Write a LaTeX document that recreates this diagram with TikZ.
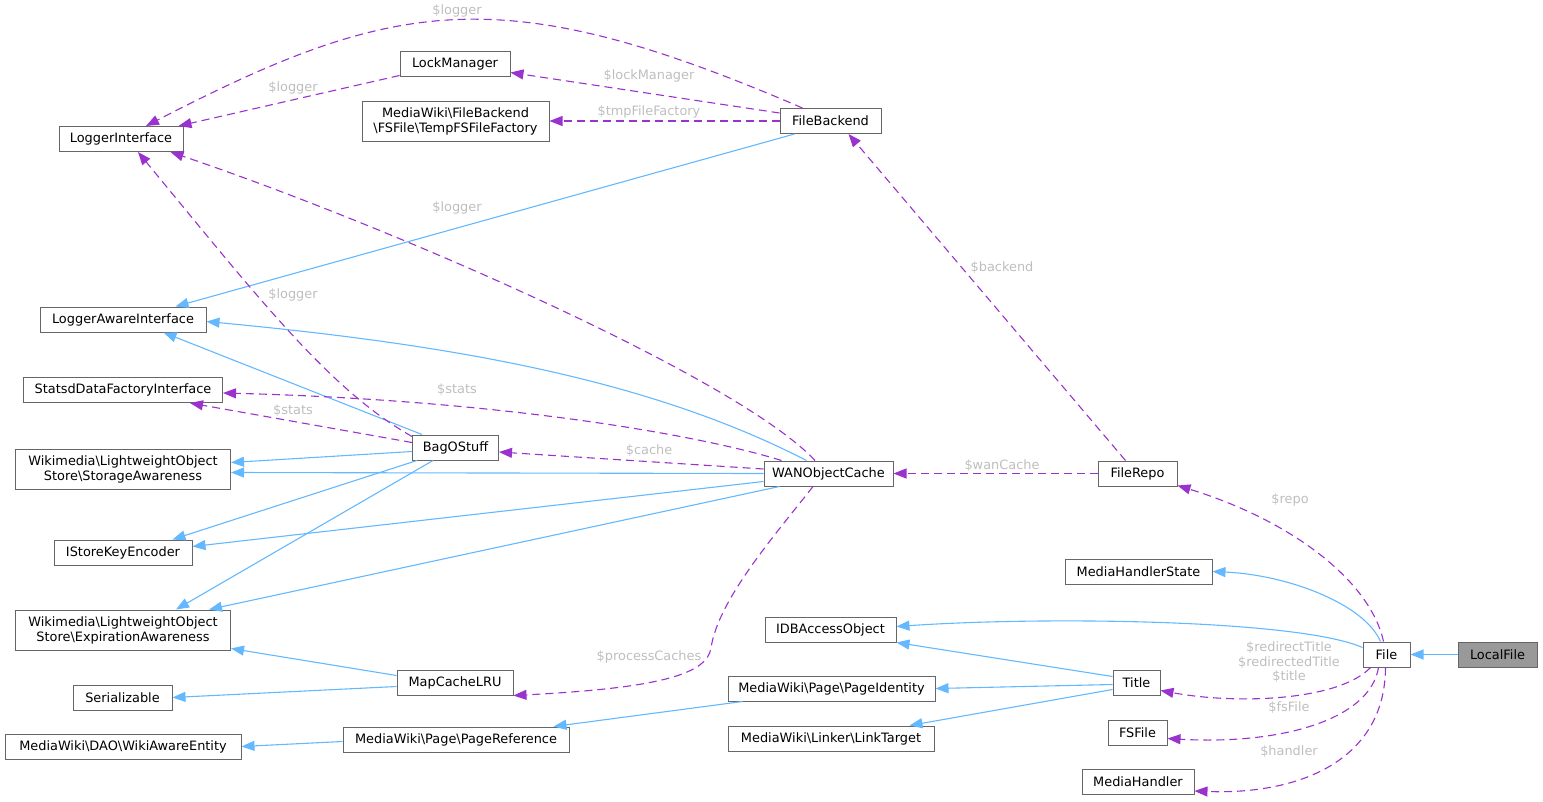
\documentclass[tikz,border=0pt]{standalone}
\usepackage{fontspec}
\setmainfont{DejaVu Sans}
\usetikzlibrary{arrows.meta,calc}
\definecolor{edgeblue}{HTML}{63B8FF}
\definecolor{edgepurple}{HTML}{9A32CD}
\definecolor{lblgray}{HTML}{BEBEBE}
\definecolor{boxgray}{HTML}{666666}
\definecolor{fillgray}{HTML}{999999}
\begin{document}
\begin{tikzpicture}[x=1pt,y=-1pt,
  box/.style={draw=boxgray, line width=1pt, fill=white, font=\fontsize{12.9}{15}\selectfont, inner sep=0pt, minimum height=25pt, align=center},
  box2/.style={box, minimum height=40pt},
  inh/.style={draw=edgeblue, line width=1.1pt, -{Triangle[length=13pt,width=10pt]}},
  refl/.style={draw=edgepurple, line width=1.1pt, dash pattern=on 8pt off 5pt, -{Triangle[length=13pt,width=10pt]}},
  lbl/.style={text=lblgray, font=\fontsize{12.9}{14.5}\selectfont, inner sep=0pt, align=center}]
\useasboundingbox (0,0) rectangle (1543,801);

% nodes
\node[box, minimum width=124pt] (li) at (121,139) {LoggerInterface};
\node[box, minimum width=110pt] (lm) at (455,63.5) {LockManager};
\node[box2, minimum width=187pt] (tmp) at (455.5,121) {MediaWiki\textbackslash FileBackend\\\textbackslash FSFile\textbackslash TempFSFileFactory};
\node[box, minimum width=101pt] (fb) at (830.5,121) {FileBackend};
\node[box, minimum width=166pt] (lai) at (123,319.5) {LoggerAwareInterface};
\node[box, minimum width=199pt] (sdfi) at (123,390) {StatsdDataFactoryInterface};
\node[box2, minimum width=215pt] (sa) at (123,469.5) {Wikimedia\textbackslash LightweightObject\\Store\textbackslash StorageAwareness};
\node[box, minimum width=138pt] (iske) at (123,552.5) {IStoreKeyEncoder};
\node[box2, minimum width=215pt] (ea) at (123,630) {Wikimedia\textbackslash LightweightObject\\Store\textbackslash ExpirationAwareness};
\node[box, minimum width=99pt] (ser) at (122.5,697.5) {Serializable};
\node[box, minimum width=236pt] (wae) at (123,746.5) {MediaWiki\textbackslash DAO\textbackslash WikiAwareEntity};
\node[box, minimum width=86pt] (bag) at (455.5,447.5) {BagOStuff};
\node[box, minimum width=116pt] (map) at (455,682.5) {MapCacheLRU};
\node[box, minimum width=226pt] (pref) at (456,739.5) {MediaWiki\textbackslash Page\textbackslash PageReference};
\node[box, minimum width=129pt] (wan) at (828.5,473.5) {WANObjectCache};
\node[box, minimum width=79pt] (repo) at (1137.5,473.5) {FileRepo};
\node[box, minimum width=147pt] (mhs) at (1138.5,571.5) {MediaHandlerState};
\node[box, minimum width=131pt] (idb) at (830.5,629.5) {IDBAccessObject};
\node[box, minimum width=207pt] (pid) at (831.5,688.5) {MediaWiki\textbackslash Page\textbackslash PageIdentity};
\node[box, minimum width=206pt] (lt) at (831,738.5) {MediaWiki\textbackslash Linker\textbackslash LinkTarget};
\node[box, minimum width=47pt] (title) at (1136.5,682.5) {Title};
\node[box, minimum width=59pt] (fs) at (1137.5,732.5) {FSFile};
\node[box, minimum width=112pt] (mh) at (1138,781.5) {MediaHandler};
\node[box, minimum width=47pt] (file) at (1386.5,654.5) {File};
\node[box, minimum width=79pt, fill=fillgray] (local) at (1497.5,654.5) {LocalFile};

% inheritance (blue)
\draw[inh] ($(fb.south west)+(15,0)$) -- ($(lai.north east)+(-31,0)$);
\draw[inh] ($(bag.north west)+(10,0)$) -- ($(lai.south east)+(-43,0)$);
\draw[inh] ($(wan.north west)+(43,0)$) .. controls (650,380) and (456,345) .. ($(lai.east)+(0,2)$);
\draw[inh] ($(bag.west)+(0,4)$) -- ($(sa.east)+(0,-7)$);
\draw[inh] (wan.west) -- ($(sa.east)+(0,3)$);
\draw[inh] ($(bag.south west)+(5,0)$) -- ($(iske.north east)+(-20,0)$);
\draw[inh] ($(wan.west)+(0,8)$) -- ($(iske.east)+(0,-6)$);
\draw[inh] ($(bag.south west)+(21,0)$) -- ($(ea.north east)+(-55,0)$);
\draw[inh] ($(wan.south west)+(16,0)$) -- ($(ea.north east)+(-22,0)$);
\draw[inh] ($(map.west)+(0,-7)$) -- ($(ea.south east)+(0,-2)$);
\draw[inh] ($(map.west)+(0,4)$) -- (ser.east);
\draw[inh] ($(pref.west)+(0,2)$) -- (wae.east);
\draw[inh] ($(pid.south west)+(15,0)$) -- ($(pref.north east)+(-16,0)$);
\draw[inh] ($(title.west)+(0,-6)$) -- ($(idb.south east)+(0,0)$);
\draw[inh] ($(title.west)+(0,2)$) -- (pid.east);
\draw[inh] ($(title.west)+(0,7)$) -- ($(lt.north east)+(-25,0)$);
\draw[inh] ($(file.north)+(-6,0)$) .. controls (1365,605) and (1290,575) .. (mhs.east);
\draw[inh] ($(file.west)+(0,-7)$) .. controls (1300,620) and (1050,616) .. ($(idb.east)+(0,-3)$);
\draw[inh] (local.west) -- (file.east);

% references (purple)
\draw[refl] ($(fb.north west)+(23,0)$) .. controls (503,-21) and (396,-3) .. ($(li.north)+(25,0)$);
\node[lbl] (l1) at (457,11) {\$logger};
\draw[refl] ($(lm.south west)+(0,-1)$) -- ($(li.north east)+(-5,0)$);
\node[lbl] (l2) at (293,88) {\$logger};
\draw[refl] ($(fb.west)+(0,-8)$) -- ($(lm.east)+(0,9)$);
\node[lbl] (l3) at (649,76) {\$lockManager};
\draw[refl] (fb.west) -- (tmp.east);
\node[lbl] (l4) at (649,112) {\$tmpFileFactory};
\draw[refl] ($(bag.north west)+(0,2)$) .. controls (330,390) and (260,300) .. ($(li.south)+(17,0)$);
\node[lbl] (l5) at (293,295) {\$logger};
\draw[refl] ($(wan.north)+(-13.5,0)$) .. controls (740,380) and (400,230) .. ($(li.south east)+(-13,0)$);
\node[lbl] (l6) at (457,208) {\$logger};
\draw[refl] ($(wan.north west)+(18,0)$) .. controls (700,435) and (500,400) .. ($(sdfi.east)+(0,3)$);
\node[lbl] (l7) at (457,390) {\$stats};
\draw[refl] ($(bag.west)+(0,-5)$) -- ($(sdfi.south east)+(-33,0)$);
\node[lbl] (l8) at (293,411) {\$stats};
\draw[refl] ($(wan.west)+(0,-4.5)$) -- ($(bag.east)+(0,4.5)$);
\node[lbl] (l9) at (649,451) {\$cache};
\draw[refl] ($(wan.south)+(-15.5,0)$) .. controls (775,535) and (718,600) .. (711,648)
  .. controls (707,674) and (660,688) .. ($(map.south east)+(0,0)$);
\node[lbl] (l10) at (649,657) {\$processCaches};
\draw[refl] (repo.west) -- (wan.east);
\node[lbl] (l11) at (1002,466) {\$wanCache};
\draw[refl] ($(repo.north)+(-12,0)$) -- ($(fb.south east)+(-33,0)$);
\node[lbl] (l12) at (1002,268) {\$backend};
\draw[refl] ($(file.north)+(-3,0)$) .. controls (1370,580) and (1290,520) .. ($(repo.south east)+(0,-1)$);
\node[lbl] (l13) at (1290,500) {\$repo};
\draw[refl] ($(file.south west)+(8,0)$) .. controls (1340,700) and (1240,705) .. ($(title.east)+(0,8)$);
\node[lbl] (l14) at (1289,662.5) {\$redirectTitle\\\$redirectedTitle\\\$title};
\draw[refl] ($(file.south)+(-8,0)$) .. controls (1370,720) and (1280,745) .. ($(fs.east)+(0,6)$);
\node[lbl] (l15) at (1289,708) {\$fsFile};
\draw[refl] ($(file.south)+(-1,0)$) .. controls (1385,760) and (1300,795) .. ($(mh.east)+(0,9.5)$);
\node[lbl] (l16) at (1289,752) {\$handler};
\end{tikzpicture}
\end{document}
